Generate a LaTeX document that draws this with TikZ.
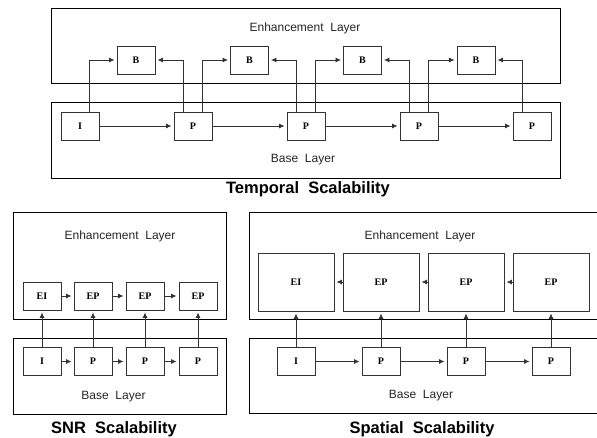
\documentclass[tikz,border=0pt]{standalone}
\usepackage{fontspec}
\setmainfont{Liberation Serif}
\newfontfamily\layerfont{Liberation Sans}
\usetikzlibrary{arrows.meta}
\tikzset{
  layerbox/.style={draw=black, line width=0.9pt},
  frame/.style={draw=black!80, line width=0.9pt, fill=white, inner sep=0pt,
                minimum width=38pt, minimum height=28pt,
                font=\fontsize{10}{10}\selectfont\bfseries},
  bigframe/.style={frame, minimum width=76pt, minimum height=58pt},
  link/.style={draw=black!80, line width=0.8pt,
               -{Latex[length=5.5pt,width=5pt]}, shorten >=2pt},
  layertext/.style={font=\layerfont\fontsize{12}{12}\selectfont, text=black!85},
  caption/.style={font=\layerfont\bfseries\fontsize{16.5}{16.5}\selectfont}
}
\begin{document}
\begin{tikzpicture}[x=1pt,y=-1pt]
\useasboundingbox[fill=white] (0,0) rectangle (597,438);

% ---------------- Temporal scalability ----------------
\draw[layerbox] (51,8) rectangle (560,83);
\draw[layerbox] (51,102) rectangle (560,178);
\node[layertext] (tEnh) at (305,28) {Enhancement\ \ Layer};
\node[layertext] (tBase) at (303,160) {Base\ \ Layer};
\node[caption] (tCap) at (308,189) {Temporal\ \ Scalability};

\node[frame] (tI)  at (80,126)  {I};
\node[frame] (tP1) at (193,126) {P};
\node[frame] (tP2) at (306,126) {P};
\node[frame] (tP3) at (419,126) {P};
\node[frame] (tP4) at (532,126) {P};

\node[frame] (tB1) at (136,60)   {B};
\node[frame] (tB2) at (249.5,60) {B};
\node[frame] (tB3) at (362.5,60) {B};
\node[frame] (tB4) at (476,60)   {B};

\draw[link] (tI) -- (tP1);
\draw[link] (tP1) -- (tP2);
\draw[link] (tP2) -- (tP3);
\draw[link] (tP3) -- (tP4);

\draw[link] ([xshift=9.5pt]tI.north)   |- (tB1.west);
\draw[link] ([xshift=-9.5pt]tP1.north) |- (tB1.east);
\draw[link] ([xshift=9.5pt]tP1.north)  |- (tB2.west);
\draw[link] ([xshift=-9.5pt]tP2.north) |- (tB2.east);
\draw[link] ([xshift=9.5pt]tP2.north)  |- (tB3.west);
\draw[link] ([xshift=-9.5pt]tP3.north) |- (tB3.east);
\draw[link] ([xshift=9.5pt]tP3.north)  |- (tB4.west);
\draw[link] ([xshift=-9.5pt]tP4.north) |- (tB4.east);

% ---------------- SNR scalability ----------------
\draw[layerbox] (13,212) rectangle (226,319);
\draw[layerbox] (13,338) rectangle (226,414);
\node[layertext] (sEnh) at (120,236) {Enhancement\ \ Layer};
\node[layertext] (sBase) at (113.5,397) {Base\ \ Layer};
\node[caption] (sCap) at (114,429) {SNR\ \ Scalability};

\node[frame] (sE1) at (42,296)  {EI};
\node[frame] (sE2) at (93,296)  {EP};
\node[frame] (sE3) at (145,296) {EP};
\node[frame] (sE4) at (198,296) {EP};
\node[frame] (sB1) at (42,361.5)  {I};
\node[frame] (sB2) at (93,361.5)  {P};
\node[frame] (sB3) at (145,361.5) {P};
\node[frame] (sB4) at (198,361.5) {P};

\draw[link] (sE1) -- (sE2);
\draw[link] (sE2) -- (sE3);
\draw[link] (sE3) -- (sE4);
\draw[link] (sB1) -- (sB2);
\draw[link] (sB2) -- (sB3);
\draw[link] (sB3) -- (sB4);
\draw[link] (sB1) -- (sE1);
\draw[link] (sB2) -- (sE2);
\draw[link] (sB3) -- (sE3);
\draw[link] (sB4) -- (sE4);

% ---------------- Spatial scalability ----------------
\draw[layerbox] (597,212) -- (249,212) -- (249,319) -- (597,319);
\draw[layerbox] (597,338) -- (249,338) -- (249,413) -- (597,413);
\node[layertext] (pEnh) at (420,236) {Enhancement\ \ Layer};
\node[layertext] (pBase) at (421,396) {Base\ \ Layer};
\node[caption] (pCap) at (422,429) {Spatial\ \ Scalability};

\node[bigframe] (pE1) at (296,282) {EI};
\node[bigframe] (pE2) at (381,282) {EP};
\node[bigframe] (pE3) at (466,282) {EP};
\node[bigframe] (pE4) at (551,282) {EP};
\node[frame] (pB1) at (296,361.5) {I};
\node[frame] (pB2) at (381,361.5) {P};
\node[frame] (pB3) at (466,361.5) {P};
\node[frame] (pB4) at (551,361.5) {P};

\draw[link] (pE2) -- (pE1);
\draw[link] (pE3) -- (pE2);
\draw[link] (pE4) -- (pE3);
\draw[link] (pB1) -- (pB2);
\draw[link] (pB2) -- (pB3);
\draw[link] (pB3) -- (pB4);
\draw[link] (pB1) -- (pE1);
\draw[link] (pB2) -- (pE2);
\draw[link] (pB3) -- (pE3);
\draw[link] (pB4) -- (pE4);
\end{tikzpicture}
\end{document}
